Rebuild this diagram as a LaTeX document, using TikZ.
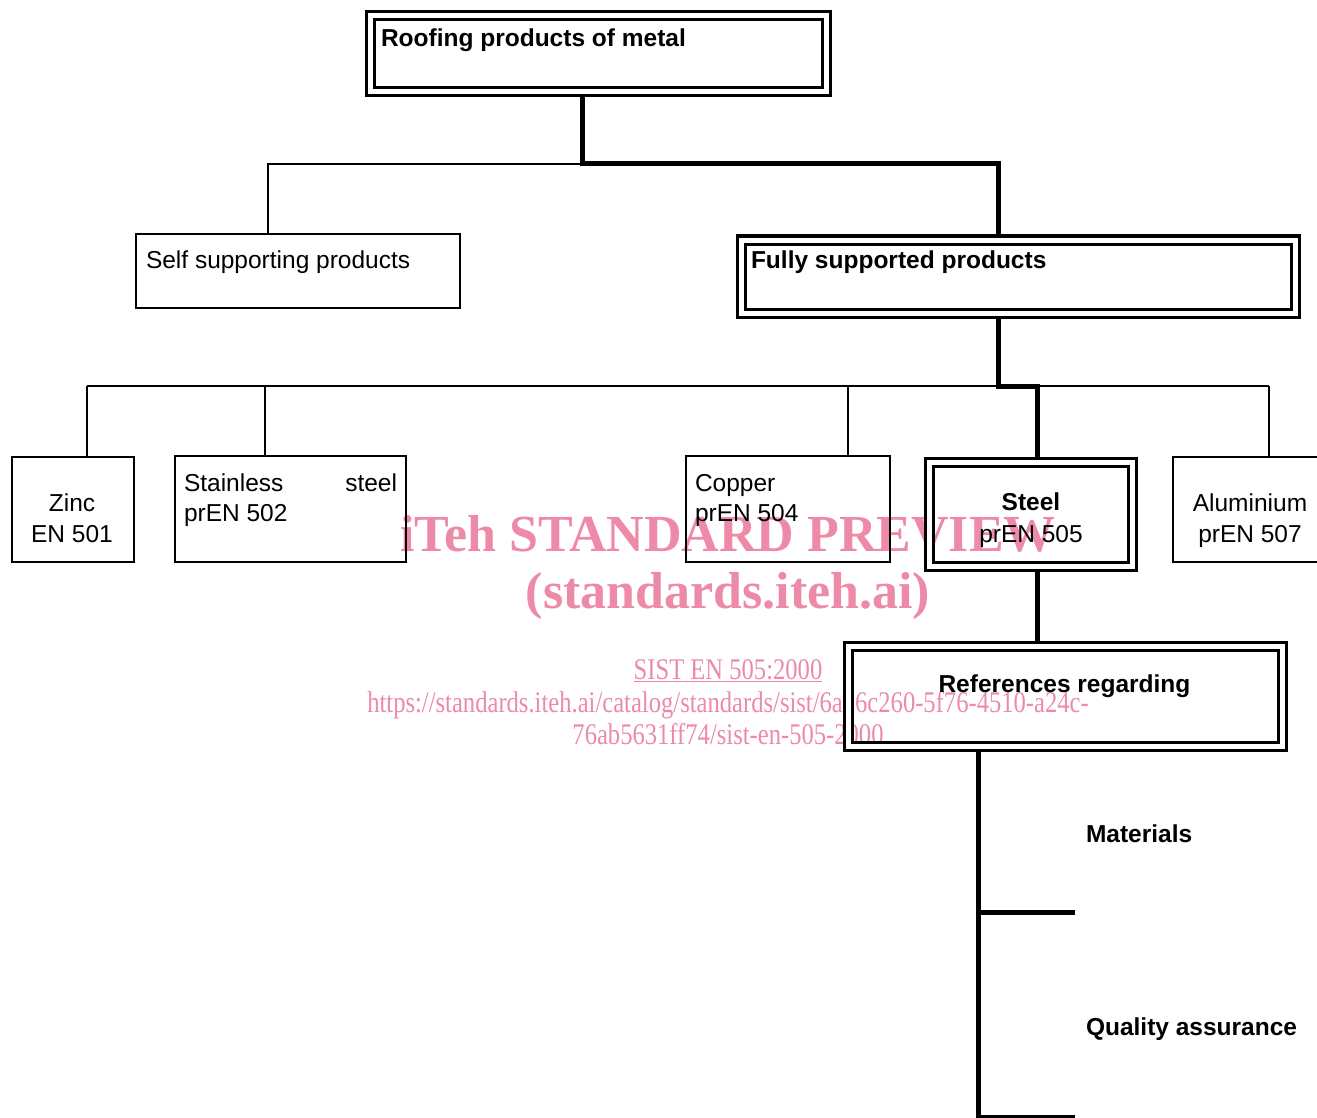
\documentclass[tikz,border=0pt]{standalone}
\usepackage{fontspec}
\usepackage{graphicx}
\setmainfont{Liberation Sans}
\newfontfamily\wmfont{Liberation Serif}
\pgfdeclarelayer{wm}
\pgfdeclarelayer{conn}
\pgfsetlayers{wm,conn,main}
\definecolor{wmpink}{RGB}{236,138,168}
\tikzset{
  dbox/.style={draw, line width=3pt, double, double distance=5pt, inner sep=0pt, outer sep=0pt},
  thinbox/.style={draw, line width=2pt, inner sep=0pt, outer sep=0pt},
  lbl/.style={font=\fontsize{24.5}{28}\selectfont, inner sep=0pt, outer sep=0pt},
  blbl/.style={font=\fontsize{24.5}{28}\selectfont\bfseries, inner sep=0pt, outer sep=0pt},
  thickc/.style={line width=5pt},
  thinc/.style={line width=2pt},
  wmbig/.style={text=wmpink, font=\wmfont\fontsize{52}{60}\selectfont\bfseries, inner sep=0pt},
  wmsmall/.style={text=wmpink, font=\wmfont\fontsize{30}{34}\selectfont, inner sep=0pt}
}
\begin{document}
\begin{tikzpicture}[x=1pt,y=-1pt]
\useasboundingbox (0,0) rectangle (1317,1118);

% boxes
\node[dbox, minimum width=456pt, minimum height=76pt] (top) at (598,54) {};
\node[thinbox, minimum width=324pt, minimum height=74pt] (self) at (298,271) {};
\node[dbox, minimum width=554pt, minimum height=73pt] (fully) at (1018,276.5) {};
\node[thinbox, minimum width=122pt, minimum height=105pt] (zinc) at (73,509.5) {};
\node[thinbox, minimum width=231pt, minimum height=106pt] (stain) at (290.5,509) {};
\node[thinbox, minimum width=204pt, minimum height=106pt] (copper) at (788,509) {};
\node[dbox, minimum width=203pt, minimum height=104pt] (steel) at (1030.5,514) {};
\node[thinbox, minimum width=154pt, minimum height=105pt] (alu) at (1250,509.5) {};
\node[dbox, minimum width=434pt, minimum height=100pt] (refs) at (1065,696) {};

% labels
\node[blbl, anchor=base west] (toptxt) at (381,47) {Roofing products of metal};
\node[lbl, anchor=base west] (selftxt) at (146,268) {Self supporting products};
\node[blbl, anchor=base west] (fullytxt) at (751,268) {Fully supported products};
\node[lbl, anchor=base] (zinc1) at (72,511) {Zinc};
\node[lbl, anchor=base] (zinc2) at (72,542) {EN 501};
\node[lbl, anchor=base west] (stain1) at (184,491) {Stainless};
\node[lbl, anchor=base east] (stain1b) at (397,491) {steel};
\node[lbl, anchor=base west] (stain2) at (184,521) {prEN 502};
\node[lbl, anchor=base west] (copper1) at (695,491) {Copper};
\node[lbl, anchor=base west] (copper2) at (695,521) {prEN 504};
\node[blbl, anchor=base] (steel1) at (1031,510) {Steel};
\node[lbl, anchor=base] (steel2) at (1031,542) {prEN 505};
\node[lbl, anchor=base] (alu1) at (1250,511) {Aluminium};
\node[lbl, anchor=base] (alu2) at (1250,542) {prEN 507};
\node[blbl, anchor=base] (refstxt) at (1064.5,692) {References regarding};
\node[blbl, anchor=base west] (mat) at (1086,842) {Materials};
\node[blbl, anchor=base west] (qa) at (1086,1035) {Quality assurance};

% connectors
\coordinate (j1) at (582,164);
\coordinate (j1r) at (998,164);
\coordinate (j1l) at (268,164);
\coordinate (j2) at (998,386);
\coordinate (j2r) at (1037,386);
\coordinate (bl) at (87,386);
\coordinate (b2) at (265,386);
\coordinate (b3) at (848,386);
\coordinate (br) at (1269,386);
\coordinate (j4) at (978,912);
\coordinate (j4e) at (1075,912);
\coordinate (j5) at (978,1116);
\coordinate (j5e) at (1075,1116);
\coordinate (jend) at (978,1130);

\begin{pgfonlayer}{conn}
\draw[thinc] (j1) -- (j1l) -- (self.north -| j1l);
\draw[thickc] (top.south -| j1) -- (j1) -- (j1r) -- (fully.north -| j1r);
\draw[thinc] (bl) -- (br);
\draw[thinc] (bl) -- (zinc.north -| bl);
\draw[thinc] (b2) -- (stain.north -| b2);
\draw[thinc] (b3) -- (copper.north -| b3);
\draw[thinc] (br) -- (alu.north -| br);
\draw[thickc] (fully.south -| j2) -- (j2) -- (j2r) -- (steel.north -| j2r);
\draw[thickc] (steel.south -| j2r) -- (refs.north -| j2r);
\draw[thickc] (refs.south -| j4) -- (jend);
\draw[thickc] (j4) -- (j4e);
\draw[line width=3pt] (j5) -- (j5e);
\end{pgfonlayer}

% watermark
\begin{pgfonlayer}{wm}
\node[wmbig, anchor=base] (wm1) at (728,551) {iTeh STANDARD PREVIEW};
\node[wmbig, anchor=base] (wm2) at (728,608) {(standards.iteh.ai)};
\node[wmsmall, anchor=base] (wm3) at (728,679) {\scalebox{0.82}[1]{\underline{SIST EN 505:2000}}};
\node[wmsmall, anchor=base] (wm4) at (728,712) {\scalebox{0.82}[1]{https://standards.iteh.ai/catalog/standards/sist/6a36c260-5f76-4510-a24c-}};
\node[wmsmall, anchor=base] (wm5) at (728,744) {\scalebox{0.82}[1]{76ab5631ff74/sist-en-505-2000}};
\end{pgfonlayer}
\end{tikzpicture}
\end{document}
